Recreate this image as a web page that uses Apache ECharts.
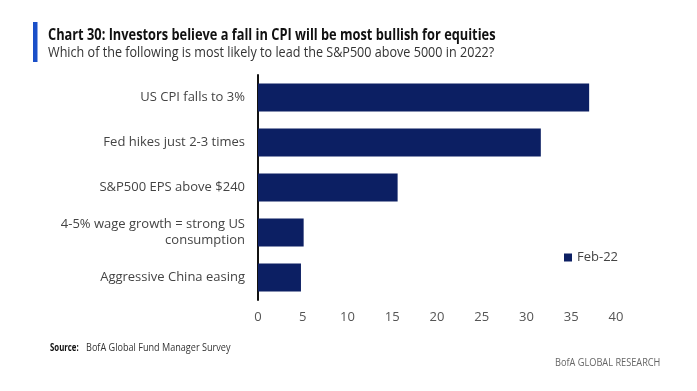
<!DOCTYPE html>
<html><head><meta charset="utf-8">
<script src="https://cdn.jsdelivr.net/npm/echarts@6/dist/echarts.min.js"></script>
<style>html,body{margin:0;padding:0;background:#fff}#c{width:697px;height:391px}</style>
</head><body><div id="c"></div>
<script>
const categories = ["US CPI falls to 3%", "Fed hikes just 2-3 times", "S&P500 EPS above $240", "4-5% wage growth = strong US\nconsumption", "Aggressive China easing"];
const values = [37.0, 31.6, 15.6, 5.1, 4.8];
const seriesName = "Feb-22";
const xTicks = [0, 5, 10, 15, 20, 25, 30, 35, 40];
const FONT = "'Open Sans',sans-serif";
const chart = echarts.init(document.getElementById('c'));
chart.setOption({
  animation: false,
  graphic: [
    {type:'rect', shape:{x:33,y:22,width:4.5,height:40}, style:{fill:'#1a4fc8'}},
    {type:'text', x:48, y:35.5, scaleX:0.776, style:{text:"Chart 30: Investors believe a fall in CPI will be most bullish for equities", font:"bold 16.5px "+FONT, fill:'#111', verticalAlign:'middle'}},
    {type:'text', x:48, y:52.5, scaleX:0.84, style:{text:"Which of the following is most likely to lead the S&P500 above 5000 in 2022?", font:"15px "+FONT, fill:'#333', verticalAlign:'middle'}},
    {type:'text', x:50, y:348, scaleX:0.78, style:{text:"Source:", font:"bold 10px "+FONT, fill:'#111', verticalAlign:'middle'}},
    {type:'text', x:86, y:348, scaleX:0.91, style:{text:"BofA Global Fund Manager Survey", font:"10px "+FONT, fill:'#333', verticalAlign:'middle'}},
    {type:'text', x:555, y:363, scaleX:0.92, style:{text:"BofA GLOBAL RESEARCH", font:"10px "+FONT, fill:'#666', verticalAlign:'middle'}}
  ],
  legend: {
    data:[seriesName], left:559, top:246, icon:'rect', itemWidth:8, itemHeight:8, itemGap:3,
    textStyle:{fontFamily:FONT, fontSize:13, color:'#444'}
  },
  grid: {left:258, right:81, top:75, bottom:91},
  xAxis: {
    type:'value', min:0, max:40, interval:5,
    axisLine:{show:false}, axisTick:{show:false}, splitLine:{show:false},
    axisLabel:{fontFamily:FONT, fontSize:13, color:'#555', margin:11,
      formatter: v => xTicks.includes(v) ? String(v) : ''}
  },
  yAxis: {
    type:'category', data:categories, inverse:true,
    axisLine:{show:true, lineStyle:{color:'#111', width:2}}, axisTick:{show:false},
    axisLabel:{fontFamily:FONT, fontSize:13, color:'#444', margin:13, lineHeight:16, align:'right'}
  },
  series: [{
    name:seriesName, type:'bar', data:values, barCategoryGap:'38%',
    itemStyle:{color:'#0c1f63'}
  }]
});
</script></body></html>
